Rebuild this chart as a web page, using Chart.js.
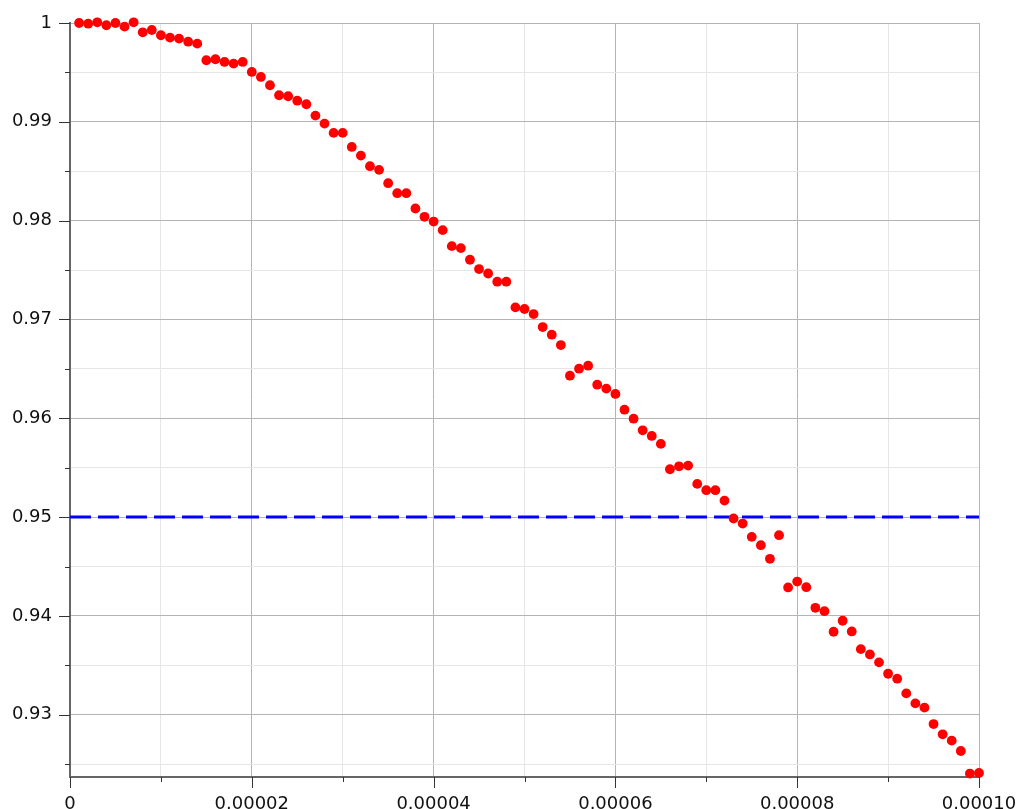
<!DOCTYPE html>
<html>
<head>
<meta charset="utf-8">
<script src="https://cdn.jsdelivr.net/npm/chart.js@4"></script>
<style>
  html, body { margin: 0; padding: 0; background: #fff; }
  #wrap { width: 1017px; height: 809px; }
</style>
</head>
<body>
<div id="wrap"><canvas id="grafico"></canvas></div>
<script>
// x positions (step 1e-6)
const xValues = [];
for (let i = 1; i <= 100; i++) xValues.push(i * 1e-6);

// values
const yValues = [
  1.0000, 0.99993, 1.00007, 0.99977, 1.0000, 0.99963, 1.00007, 0.99906, 0.99929, 0.99876,
  0.99852, 0.99842, 0.99811, 0.99791, 0.99623, 0.99633, 0.99606, 0.99589, 0.99606, 0.99505,
  0.99454, 0.99370, 0.99269, 0.99259, 0.99214, 0.99178, 0.99063, 0.98982, 0.98888, 0.98888,
  0.98746, 0.98658, 0.98551, 0.98514, 0.98379, 0.98278, 0.98278, 0.98123, 0.98039, 0.97991,
  0.97904, 0.97742, 0.97722, 0.97604, 0.97510, 0.97465, 0.97382, 0.97382, 0.97122, 0.97106,
  0.97055, 0.96923, 0.96846, 0.96741, 0.96431, 0.96502, 0.96532, 0.96340, 0.96300, 0.96246,
  0.96087, 0.95996, 0.95878, 0.95821, 0.95741, 0.95484, 0.95514, 0.95521, 0.95336, 0.95272,
  0.95272, 0.95167, 0.94986, 0.94935, 0.94800, 0.94716, 0.94578, 0.94817, 0.94288, 0.94348,
  0.94291, 0.94082, 0.94048, 0.93840, 0.93951, 0.93843, 0.93664, 0.93610, 0.93530, 0.93415,
  0.93365, 0.93216, 0.93115, 0.93072, 0.92906, 0.92802, 0.92738, 0.92633, 0.92405, 0.92411
];

const limite = 0.95;            // linha tracejada azul
const limiteX = [0, 0.0001];

const xTickValues = [0, 0.00001, 0.00002, 0.00003, 0.00004, 0.00005, 0.00006, 0.00007, 0.00008, 0.00009, 0.0001];
const xTickLabels = ['0', '', '0.00002', '', '0.00004', '', '0.00006', '', '0.00008', '', '0.00010'];

const yTickValues = [0.925, 0.93, 0.935, 0.94, 0.945, 0.95, 0.955, 0.96, 0.965, 0.97, 0.975, 0.98, 0.985, 0.99, 0.995, 1.0];
const yTickLabels = ['', '0.93', '', '0.94', '', '0.95', '', '0.96', '', '0.97', '', '0.98', '', '0.99', '', '1'];

const isMajor = (labels, i) => labels[i] !== '';

// desenha as marcas dos ticks (maiores nos rótulos, menores entre eles)
const marcas = {
  id: 'marcas',
  afterDraw(chart) {
    const ctx = chart.ctx;
    const xs = chart.scales.x, ys = chart.scales.y;
    ctx.save();
    ctx.strokeStyle = '#333';
    ctx.lineWidth = 1;
    ctx.beginPath();
    xs.ticks.forEach((t, i) => {
      const px = Math.round(xs.getPixelForValue(t.value)) + 0.5;
      const len = isMajor(xTickLabels, i) ? 11 : 5;
      ctx.moveTo(px, xs.top);
      ctx.lineTo(px, xs.top + len);
    });
    ys.ticks.forEach((t, i) => {
      const py = Math.round(ys.getPixelForValue(t.value)) + 0.5;
      const len = isMajor(yTickLabels, i) ? 11 : 5;
      ctx.moveTo(ys.right, py);
      ctx.lineTo(ys.right - len, py);
    });
    ctx.stroke();
    ctx.restore();
  }
};

document.addEventListener('DOMContentLoaded', () => {
  const ctx = document.getElementById('grafico').getContext('2d');
  new Chart(ctx, {
    type: 'scatter',
    data: {
      datasets: [
        {
          label: 'pontos',
          data: xValues.map((x, i) => ({ x: x, y: yValues[i] })),
          backgroundColor: '#ff0000',
          borderWidth: 0,
          pointRadius: 4.9,
          pointHoverRadius: 4.9,
          clip: false,
          order: 0
        },
        {
          type: 'line',
          label: 'limite',
          data: limiteX.map(x => ({ x: x, y: limite })),
          borderColor: '#0000ff',
          borderWidth: 3,
          borderDash: [21, 7],
          pointRadius: 0,
          fill: false,
          order: 1
        }
      ]
    },
    options: {
      responsive: true,
      maintainAspectRatio: false,
      animation: false,
      layout: { padding: { top: 23, right: 38, left: 0, bottom: 0 } },
      plugins: {
        legend: { display: false },
        tooltip: { enabled: false }
      },
      scales: {
        x: {
          type: 'linear',
          min: 0,
          max: 0.0001,
          afterBuildTicks: axis => { axis.ticks = xTickValues.map(v => ({ value: v })); },
          afterFit: axis => { axis.height = 32; axis.paddingLeft = 0; axis.paddingRight = 0; },
          border: { color: '#666', width: 2 },
          grid: {
            drawTicks: false,
            color: c => isMajor(xTickLabels, c.index) ? '#b4b4b4' : '#e6e6e6'
          },
          ticks: {
            autoSkip: false,
            maxRotation: 0,
            padding: 17,
            color: '#111',
            font: { family: 'DejaVu Sans', size: 18 },
            callback: (v, i) => xTickLabels[i]
          }
        },
        y: {
          min: 0.9237,
          max: 1.0,
          afterBuildTicks: axis => { axis.ticks = yTickValues.map(v => ({ value: v })); },
          afterFit: axis => { axis.width = 70; axis.paddingTop = 0; axis.paddingBottom = 0; },
          border: { color: '#666', width: 2 },
          grid: {
            drawTicks: false,
            color: c => isMajor(yTickLabels, c.index) ? '#b4b4b4' : '#e6e6e6'
          },
          ticks: {
            autoSkip: false,
            padding: 18,
            color: '#111',
            font: { family: 'DejaVu Sans', size: 18 },
            callback: (v, i) => yTickLabels[i]
          }
        }
      }
    },
    plugins: [marcas]
  });
});
</script>
</body>
</html>
